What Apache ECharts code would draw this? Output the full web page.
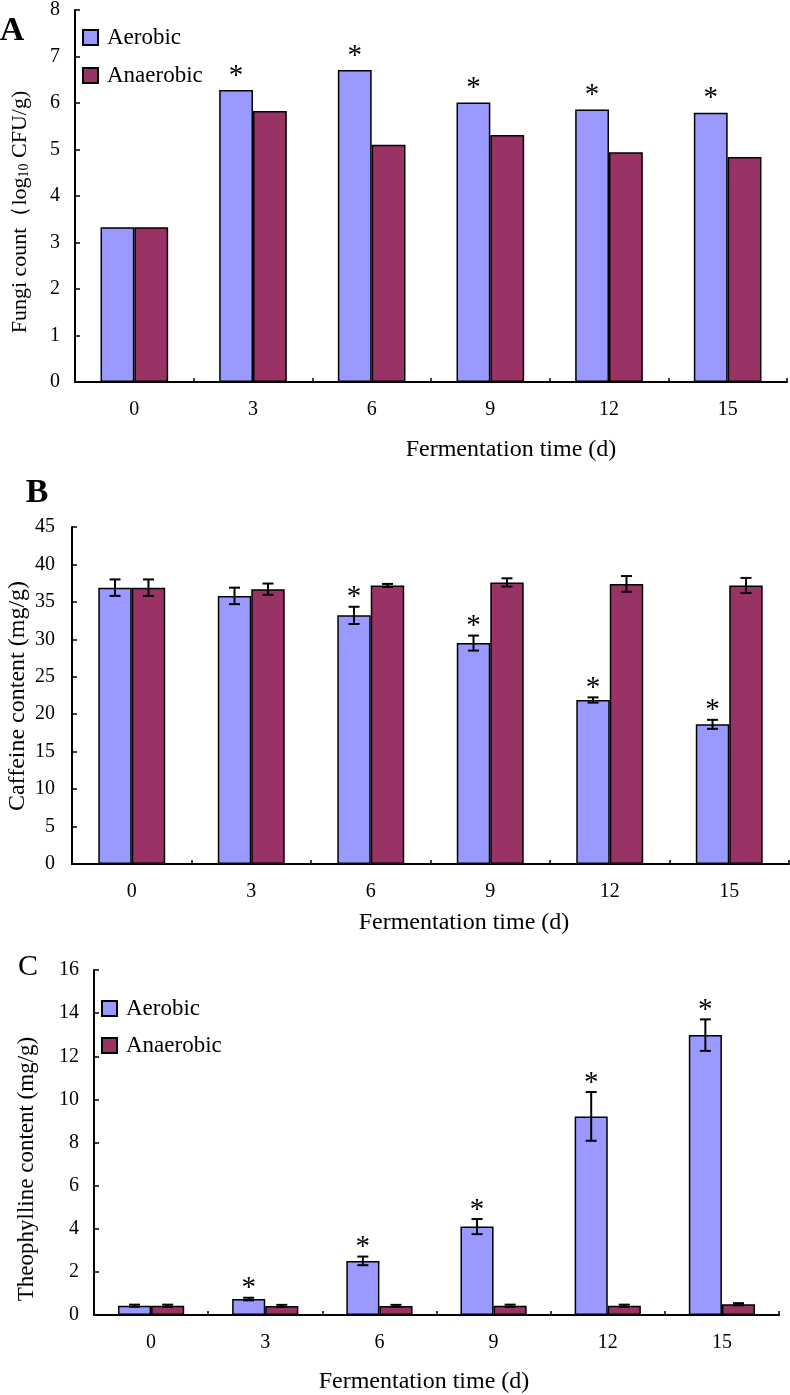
<!DOCTYPE html>
<html>
<head>
<meta charset="utf-8">
<script src="https://cdn.jsdelivr.net/npm/echarts@6/dist/echarts.min.js"></script>
<style>
html,body{margin:0;padding:0;background:#fff;}
#chart{width:790px;height:1395px;}
</style>
</head>
<body>
<div id="chart"></div>
<script>
// ---------- data ----------
const days = ['0', '3', '6', '9', '12', '15'];
const seriesNames = ['Aerobic', 'Anaerobic'];

// Panel A: fungi count (log10 CFU/g)
const fungiAerobic   = [3.33, 6.28, 6.71, 6.01, 5.86, 5.79];
const fungiAnaerobic = [3.33, 5.83, 5.10, 5.31, 4.94, 4.84];
const fungiSig       = [0, 1, 1, 1, 1, 1];

// Panel B: caffeine content (mg/g)
const caffeineAerobic      = [36.9, 35.8, 33.2, 29.5, 21.9, 18.65];
const caffeineAerobicErr   = [1.1, 1.1, 1.15, 1.0, 0.35, 0.6];
const caffeineAnaerobic    = [36.9, 36.7, 37.2, 37.6, 37.4, 37.2];
const caffeineAnaerobicErr = [1.1, 0.75, 0.2, 0.55, 1.05, 1.0];
const caffeineSig          = [0, 0, 1, 1, 1, 1];

// Panel C: theophylline content (mg/g)
const theoAerobic      = [0.43, 0.74, 2.51, 4.1, 9.21, 12.98];
const theoAerobicErr   = [0.05, 0.06, 0.2, 0.35, 1.13, 0.73];
const theoAnaerobic    = [0.43, 0.42, 0.42, 0.43, 0.43, 0.5];
const theoAnaerobicErr = [0.05, 0.05, 0.05, 0.05, 0.05, 0.05];
const theoSig          = [0, 1, 1, 1, 1, 1];

// axis ranges
const yRangeA = {min: 0, max: 8, interval: 1};
const yRangeB = {min: 0, max: 45, interval: 5};
const yRangeC = {min: 0, max: 16, interval: 2};

// ---------- style ----------
const FONT = '"Liberation Serif", "Times New Roman", serif';
const COL_AER = '#9999FF';
const COL_ANA = '#993366';

const gridsPx = [
  {left: 75, top: 6, width: 712, height: 376},
  {left: 72, top: 527, width: 717, height: 337},
  {left: 94, top: 970, width: 685, height: 346}
];
const catGaps = [0.43, 0.44, 0.42];

function makeErrData(vals, errs, sig) {
  return vals.map((v, i) => [i, v, errs ? errs[i] : 0, sig ? sig[i] : 0]);
}

function errRender(sign, gapFrac, starGap) {
  return function (params, api) {
    const i = api.value(0), v = api.value(1), e = api.value(2), s = api.value(3);
    const c = api.coord([i, v]);
    const bandW = api.size([1, 0])[0];
    const bw = bandW * (1 - gapFrac) / 2;
    const x = c[0] + sign * bw / 2;
    const top = api.coord([i, v + e])[1];
    const bot = api.coord([i, v - e])[1];
    const cap = 5.5;
    const st = {stroke: '#000', lineWidth: 2};
    const children = [];
    if (e > 0) {
      children.push({type: 'line', shape: {x1: x, y1: top, x2: x, y2: bot}, style: st});
      children.push({type: 'line', shape: {x1: x - cap, y1: top, x2: x + cap, y2: top}, style: st});
      children.push({type: 'line', shape: {x1: x - cap, y1: bot, x2: x + cap, y2: bot}, style: st});
    }
    if (s) {
      children.push({type: 'text', x: x, y: top - starGap,
        style: {text: '*', fill: '#000', font: '29px ' + FONT, align: 'center', verticalAlign: 'middle'}});
    }
    return {type: 'group', children: children};
  };
}

function barSeries(name, color, idx, data) {
  return {
    name: name, type: 'bar', xAxisIndex: idx, yAxisIndex: idx,
    data: data, barGap: '0%', barCategoryGap: (catGaps[idx] * 100) + '%',
    itemStyle: {color: color, borderColor: '#000', borderWidth: 1.5},
    emphasis: {disabled: true}, z: 2
  };
}

function errSeries(id, idx, data, sign, starGap) {
  return {
    name: id, type: 'custom', xAxisIndex: idx, yAxisIndex: idx,
    data: data, encode: {x: 0, y: 1},
    renderItem: errRender(sign, catGaps[idx], starGap), z: 5, silent: true
  };
}

function xAxisCfg(idx, nameGap, padding) {
  return {
    type: 'category', gridIndex: idx, data: days,
    boundaryGap: true,
    axisLine: {lineStyle: {color: '#000', width: 2}},
    axisTick: {show: true, inside: true, length: 4, alignWithLabel: false, lineStyle: {color: '#000', width: 1.5}},
    axisLabel: {color: '#000', fontFamily: FONT, fontSize: 20, margin: 18},
    name: 'Fermentation time (d)', nameLocation: 'middle', nameGap: nameGap,
    nameTextStyle: {color: '#000', fontFamily: FONT, fontSize: 24, padding: padding},
    splitLine: {show: false}
  };
}

function yAxisCfg(idx, r, margin) {
  return {
    type: 'value', gridIndex: idx, min: r.min, max: r.max, interval: r.interval,
    axisLine: {show: true, lineStyle: {color: '#000', width: 2}},
    axisTick: {show: true, inside: true, length: 5, lineStyle: {color: '#000', width: 1.5}},
    axisLabel: {color: '#000', fontFamily: FONT, fontSize: 20, margin: margin},
    splitLine: {show: false}
  };
}

const legendBase = {
  data: seriesNames, orient: 'vertical', padding: 0,
  itemWidth: 15, itemHeight: 15, icon: 'rect', selectedMode: false,
  textStyle: {color: '#000', fontFamily: FONT, fontSize: 23, lineHeight: 23, padding: [0, 0, 0, 4]}
};

const option = {
  animation: false,
  backgroundColor: '#fff',
  grid: gridsPx.map(g => Object.assign({containLabel: false}, g)),
  xAxis: [
    xAxisCfg(0, 56, [0, 0, 0, 160]),
    xAxisCfg(1, 47, [0, 0, 0, 67]),
    xAxisCfg(2, 55, [0, 25, 0, 0])
  ],
  yAxis: [
    yAxisCfg(0, yRangeA, 15),
    yAxisCfg(1, yRangeB, 17),
    yAxisCfg(2, yRangeC, 15)
  ],
  legend: [
    Object.assign({}, legendBase, {left: 82, top: 26, itemGap: 15}),
    Object.assign({}, legendBase, {left: 101, top: 997, itemGap: 14})
  ],
  graphic: [
    {type: 'text', x: 12, y: 31, style: {text: 'A', font: 'bold 34px ' + FONT, fill: '#000', align: 'center', verticalAlign: 'middle'}},
    {type: 'text', x: 37, y: 493, style: {text: 'B', font: 'bold 34px ' + FONT, fill: '#000', align: 'center', verticalAlign: 'middle'}},
    {type: 'text', x: 28, y: 967, style: {text: 'C', font: '30px ' + FONT, fill: '#000', align: 'center', verticalAlign: 'middle'}},
    {type: 'text', x: 20, y: 212, rotation: Math.PI / 2,
      style: {text: 'Fungi count（log{sub|10} CFU/g)', font: '22px ' + FONT, fill: '#000', align: 'center', verticalAlign: 'middle',
        rich: {sub: {fontSize: 14, fontFamily: FONT, fill: '#000', verticalAlign: 'bottom', padding: [6, 0, 0, 0]}}}},
    {type: 'text', x: 18, y: 696, rotation: Math.PI / 2,
      style: {text: 'Caffeine content (mg/g)', font: '24px ' + FONT, fill: '#000', align: 'center', verticalAlign: 'middle'}},
    {type: 'text', x: 27, y: 1169, rotation: Math.PI / 2,
      style: {text: 'Theophylline content (mg/g)', font: '23px ' + FONT, fill: '#000', align: 'center', verticalAlign: 'middle'}}
  ],
  series: [
    barSeries('Aerobic', COL_AER, 0, fungiAerobic),
    barSeries('Anaerobic', COL_ANA, 0, fungiAnaerobic),
    errSeries('starsA', 0, makeErrData(fungiAerobic, null, fungiSig), -1, 14),

    barSeries('Aerobic', COL_AER, 1, caffeineAerobic),
    barSeries('Anaerobic', COL_ANA, 1, caffeineAnaerobic),
    errSeries('errB1', 1, makeErrData(caffeineAerobic, caffeineAerobicErr, caffeineSig), -1, 9),
    errSeries('errB2', 1, makeErrData(caffeineAnaerobic, caffeineAnaerobicErr, null), 1, 9),

    barSeries('Aerobic', COL_AER, 2, theoAerobic),
    barSeries('Anaerobic', COL_ANA, 2, theoAnaerobic),
    errSeries('errC1', 2, makeErrData(theoAerobic, theoAerobicErr, theoSig), -1, 9),
    errSeries('errC2', 2, makeErrData(theoAnaerobic, theoAnaerobicErr, null), 1, 9)
  ]
};

const chart = echarts.init(document.getElementById('chart'), null, {renderer: 'canvas'});
chart.setOption(option);
</script>
</body>
</html>
